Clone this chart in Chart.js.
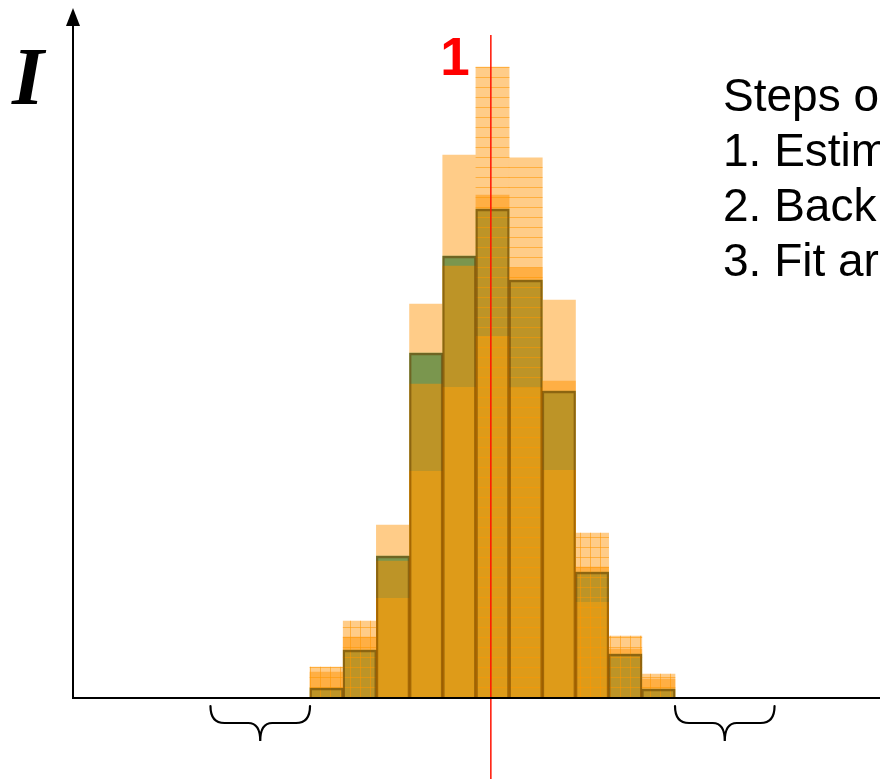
<!DOCTYPE html>
<html>
<head>
<meta charset="utf-8">
<script src="https://cdn.jsdelivr.net/npm/chart.js@4/dist/chart.umd.min.js"></script>
<style>
  html, body { margin: 0; padding: 0; background: #ffffff; }
  #wrap { position: relative; width: 880px; height: 779px; }
</style>
</head>
<body>
<div id="wrap"><canvas id="c" width="880" height="779"></canvas></div>
<script>
// Histogram bins (bin centres on the x axis)
const binCenters = [1, 2, 3, 4, 5, 6, 7, 8, 9, 10, 11];
// Intensity per bin for each overlaid histogram
const observed = [31, 77, 173, 394, 543, 631, 540, 398, 165, 62, 24];
const fitted   = [10, 48, 142, 345, 442, 489, 418, 307, 126, 44, 9];
const mirrored = [26, 61, 137, 314, 432, 503, 430, 317, 131, 49, 19];
const common   = [0, 0, 100, 227, 311, 362, 310, 228, 96, 0, 0];
// Peak marker and the two side-band ranges under the axis
const peakPosition = 5.95;
const peakLabel = '1';
const sideBands = [[-2.5, 0.5], [11.5, 14.5]];
// Axis range
const xRange = [-6.643, 17.678];
const yRange = [0, 673];
// Texts
const axisLabel = 'I';
const stepsLines = ['Steps o', '1. Estim', '2. Back', '3. Fit ar'];

const canvas = document.getElementById('c');
const ctx = canvas.getContext('2d');

function makePattern(withVertical) {
  const p = document.createElement('canvas');
  p.width = 10; p.height = 10;
  const g = p.getContext('2d');
  g.strokeStyle = 'rgba(255,150,0,0.55)';
  g.lineWidth = 1;
  g.beginPath();
  g.moveTo(0, 7.5); g.lineTo(10, 7.5);
  if (withVertical) { g.moveTo(0.5, 0); g.lineTo(0.5, 10); }
  g.stroke();
  return ctx.createPattern(p, 'repeat');
}
const stripePattern = makePattern(false);
const gridPattern = makePattern(true);
const texture = ['grid', 'grid', 'none', 'none', 'none', 'stripe', 'stripe', 'none', 'grid', 'grid', 'grid']
  .map(t => t === 'grid' ? gridPattern : t === 'stripe' ? stripePattern : 'rgba(0,0,0,0)');

const pts = arr => arr.map((v, i) => ({ x: binCenters[i], y: v }));
const barBase = { type: 'bar', grouped: false, barPercentage: 1, categoryPercentage: 1, borderSkipped: 'start' };

const decorations = {
  id: 'decorations',
  afterDatasetsDraw(chart) {
    const c = chart.ctx;
    const xs = chart.scales.x;
    const ys = chart.scales.y;
    c.save();
    // peak marker line
    const px = xs.getPixelForValue(peakPosition);
    c.strokeStyle = '#ff1200';
    c.lineWidth = 1.5;
    c.beginPath();
    c.moveTo(px, 35);
    c.lineTo(px, chart.height);
    c.stroke();
    c.fillStyle = '#ff0000';
    c.font = 'bold 53px "Liberation Sans", Arial, sans-serif';
    c.textAlign = 'right';
    c.textBaseline = 'alphabetic';
    c.fillText(peakLabel, px - 21, 75);

    // arrow head on the intensity axis
    const ax = ys.right;
    c.fillStyle = '#000';
    c.beginPath();
    c.moveTo(ax, 8);
    c.lineTo(ax - 7, 26);
    c.lineTo(ax + 7, 26);
    c.closePath();
    c.fill();

    // axis label
    c.font = 'italic bold 82px "Liberation Serif", "Times New Roman", serif';
    c.textAlign = 'left';
    c.fillText(axisLabel, 12, 104);

    // side-band braces
    c.strokeStyle = '#000';
    c.lineWidth = 2.2;
    c.lineCap = 'round';
    const yTop = 706, yMid = 723, yTip = 741;
    sideBands.forEach(([a, b]) => {
      const x1 = xs.getPixelForValue(a);
      const x2 = xs.getPixelForValue(b);
      const xm = (x1 + x2) / 2;
      c.beginPath();
      c.moveTo(x1, yTop);
      c.quadraticCurveTo(x1, yMid, x1 + 14, yMid);
      c.lineTo(xm - 12, yMid);
      c.quadraticCurveTo(xm, yMid, xm, yTip);
      c.quadraticCurveTo(xm, yMid, xm + 12, yMid);
      c.lineTo(x2 - 14, yMid);
      c.quadraticCurveTo(x2, yMid, x2, yTop);
      c.stroke();
    });

    // steps text
    c.fillStyle = '#000';
    c.font = '46px "Liberation Sans", Arial, sans-serif';
    stepsLines.forEach((t, i) => c.fillText(t, 723, 111 + i * 55));
    c.restore();
  }
};

new Chart(ctx, {
  data: {
    datasets: [
      { ...barBase, data: pts(observed), backgroundColor: '#ffcc88', borderWidth: 0, order: 6 },
      { ...barBase, data: pts(fitted), backgroundColor: '#7a964e', borderWidth: 0, order: 5 },
      { ...barBase, data: pts(mirrored), backgroundColor: 'rgba(255,146,0,0.5)', borderWidth: 0, order: 4 },
      { ...barBase, data: pts(common), backgroundColor: '#de9b19',
        borderColor: '#ff9a00', borderWidth: { left: 1.5, right: 1.5, top: 0 }, order: 3 },
      { ...barBase, data: pts(observed), backgroundColor: texture, borderWidth: 0, order: 2 },
      { ...barBase, data: pts(fitted), backgroundColor: 'rgba(0,0,0,0)',
        borderColor: 'rgba(100,62,0,0.55)', borderWidth: { left: 1.5, right: 1.5, top: 2 }, order: 1 }
    ]
  },
  options: {
    responsive: false,
    animation: false,
    layout: { padding: { left: 73, top: 25, right: 0, bottom: 81 } },
    plugins: { legend: { display: false }, tooltip: { enabled: false } },
    scales: {
      x: {
        type: 'linear', min: xRange[0], max: xRange[1], offset: false,
        grid: { display: false, drawTicks: false },
        ticks: { display: false },
        border: { display: true, color: '#000', width: 2, z: 1 },
        afterBuildTicks: s => { s.ticks = []; }
      },
      y: {
        type: 'linear', min: yRange[0], max: yRange[1],
        grid: { display: false, drawTicks: false },
        ticks: { display: false },
        border: { display: true, color: '#000', width: 2, z: 1 },
        afterBuildTicks: s => { s.ticks = []; }
      }
    }
  },
  plugins: [decorations]
});
</script>
</body>
</html>
